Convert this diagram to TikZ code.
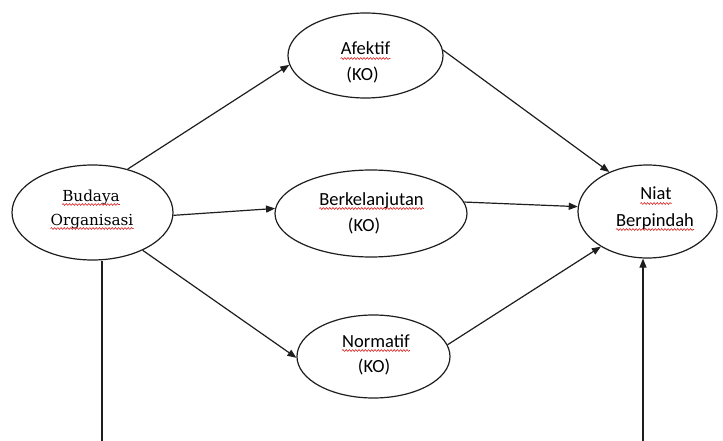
\documentclass[tikz,border=0pt]{standalone}
\usepackage{fontspec}
\usetikzlibrary{shapes.geometric,arrows.meta,decorations.pathmorphing}
\newfontfamily\calibfont{Carlito}
\newfontfamily\cambfont{DejaVu Serif}
\definecolor{spell}{RGB}{215,35,35}
\definecolor{ink}{RGB}{30,30,30}
\newcommand\wavyunder[1]{\draw[spellwave] ([yshift=-3.5pt]#1.base west) -- ([yshift=-3.5pt]#1.base east);}
\begin{document}
\begin{tikzpicture}[x=1pt,y=-1pt,
  oval/.style={draw=ink, line width=1.2pt, ellipse, inner sep=0pt},
  sanstext/.style={font=\calibfont\fontsize{18.5}{22}\selectfont, inner sep=0pt, anchor=base, text=black},
  seriftext/.style={font=\cambfont\fontsize{15.2}{18}\selectfont, inner sep=0pt, anchor=base, text=black},
  link/.style={draw=ink, line width=1.2pt, -{Triangle[length=9pt,width=7pt]}},
  plainline/.style={draw=ink, line width=1.2pt},
  spellwave/.style={draw=spell, line width=0.6pt, decorate, decoration={snake, amplitude=0.9pt, segment length=3.2pt}}]
\useasboundingbox[fill=white] (0,0) rectangle (723,441);
% ellipses
\node[oval, minimum width=161pt, minimum height=95pt] (bo) at (92.5,212.5) {};
\node[oval, minimum width=155pt, minimum height=85pt] (af) at (365.5,55.5) {};
\node[oval, minimum width=192pt, minimum height=87pt] (be) at (371,213.5) {};
\node[oval, minimum width=139pt, minimum height=93pt] (ni) at (647.5,211.5) {};
\node[oval, minimum width=153pt, minimum height=83pt] (no) at (373.5,356.5) {};
% texts
\node[seriftext] (bo1) at (91,201) {Budaya};
\node[seriftext] (bo2) at (92,225) {Organisasi};
\node[sanstext] (af1) at (365.5,55) {Afektif};
\node[sanstext] (af2) at (362.5,81) {(KO)};
\node[sanstext] (be1) at (371.5,205) {Berkelanjutan};
\node[sanstext] (be2) at (364,231) {(KO)};
\node[sanstext] (ni1) at (656,200) {Niat};
\node[sanstext] (ni2) at (655,226) {Berpindah};
\node[sanstext] (no1) at (376,347) {Normatif};
\node[sanstext] (no2) at (374,372) {(KO)};
\wavyunder{bo1}
\wavyunder{bo2}
\wavyunder{af1}
\wavyunder{be1}
\wavyunder{ni1}
\wavyunder{ni2}
\wavyunder{no1}
% connectors
\draw[link] (bo.51) -- (af.187);
\draw[link] (af.4) -- (ni.134);
\draw[link] (bo.-2) -- (be.177);
\draw[link] (be.7) -- (ni.176);
\draw[link] (bo.-37) -- (no.181);
\draw[link] (no.9) -- (ni.217);
\coordinate (c1) at (102,441);
\coordinate (c2) at (643,441);
\draw[plainline] (c1) -- (c1 |- bo.south);
\draw[link] (c2) -- (c2 |- ni.south);
\end{tikzpicture}
\end{document}
